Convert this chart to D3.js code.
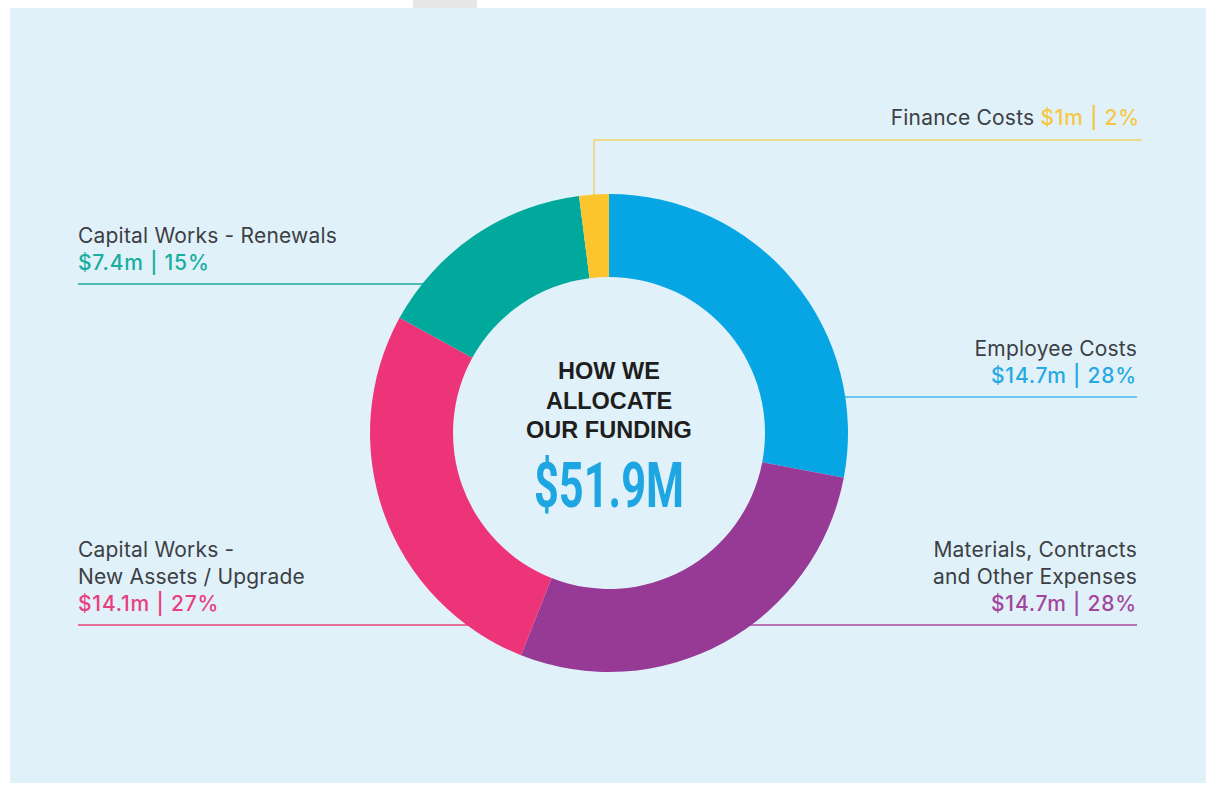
<!DOCTYPE html>
<html>
<head>
<meta charset="utf-8">
<script src="https://cdn.jsdelivr.net/npm/d3@7"></script>
<style>
  html, body { margin: 0; padding: 0; background: #ffffff; }
  svg { display: block; }
</style>
</head>
<body>
<div id="chart"></div>
<script>
(function () {
	// Data
	const categories = ["Employee Costs", "Materials, Contracts and Other Expenses", "Capital Works - New Assets / Upgrade", "Capital Works - Renewals", "Finance Costs"];
	const amounts = [14.7, 14.7, 14.1, 7.4, 1]; // $m
	const percents = [28, 28, 27, 15, 2];
	const totalLabel = "$51.9M";
	const titleLines = ["HOW WE", "ALLOCATE", "OUR FUNDING"];

	// Label text broken into lines (name lines, then value line)
	const nameLines = [
		["Employee Costs"],
		["Materials, Contracts", "and Other Expenses"],
		["Capital Works -", "New Assets / Upgrade"],
		["Capital Works - Renewals"],
		["Finance Costs"],
	];

	const SEG_COLORS = ["#05A6E3", "#973A96", "#EE3479", "#00A99C", "#FDC52D"];
	const VAL_COLORS = ["#25A9E0", "#A2469C", "#E8407F", "#17AE9E", "#F6C744"];
	const LINE_COLORS = ["#6CC6EE", "#B574B3", "#E8709B", "#4DBDB1", "#EDD98E"];

	const width = 1206, height = 787;
	const cx = 609, cy = 433;
	const R = 239, r = 156;
	const LH = 27;

	const svg = d3.select("#chart").append("svg")
		.attr("width", width)
		.attr("height", height);

	// panel
	svg.append("rect")
		.attr("x", 10).attr("y", 8)
		.attr("width", width - 10).attr("height", 775)
		.attr("fill", "#E1F1FA");
	svg.append("rect")
		.attr("x", 413).attr("y", 0)
		.attr("width", 64).attr("height", 8)
		.attr("fill", "#E6E6E6");

	const data = categories.map((c, i) => ({ name: c, amount: amounts[i], pct: percents[i], i }));

	// slices sized by the rounded percentages, as in the original graphic
	const pie = d3.pie().sort(null).value(d => d.pct);
	const arcs = pie(data);
	const arc = d3.arc().innerRadius(r).outerRadius(R);

	// label layout: side, y of the leader line
	const layout = [
		{ side: "right", lineY: 397 },
		{ side: "right", lineY: 625 },
		{ side: "left", lineY: 625 },
		{ side: "left", lineY: 284 },
		{ side: "top", lineY: 140 },
	];
	const LEFT_X = 78, RIGHT_X = 1137;

	const lines = svg.append("g");
	const donut = svg.append("g").attr("transform", `translate(${cx},${cy})`);
	const labels = svg.append("g");

	arcs.forEach((a, i) => {
		const L = layout[i];
		if (L.side === "top") {
			const mid = (a.startAngle + a.endAngle) / 2;
			const px = cx + R * Math.sin(mid);
			const py = cy - R * Math.cos(mid);
			lines.append("path")
				.attr("d", `M${px},${py + 4}V${L.lineY}H${RIGHT_X + 5}`)
				.attr("fill", "none")
				.attr("stroke", LINE_COLORS[i])
				.attr("stroke-width", 2);
		} else {
			const dy = L.lineY - cy;
			const dx = Math.sqrt(R * R - dy * dy);
			const x0 = L.side === "left" ? LEFT_X : cx + dx - 2;
			const x1 = L.side === "left" ? cx - dx + 2 : RIGHT_X;
			lines.append("line")
				.attr("x1", x0).attr("x2", x1)
				.attr("y1", L.lineY).attr("y2", L.lineY)
				.attr("stroke", LINE_COLORS[i])
				.attr("stroke-width", 2);
		}
	});

	donut.selectAll("path.seg")
		.data(arcs)
		.join("path")
		.attr("class", "seg")
		.attr("d", arc)
		.attr("fill", d => SEG_COLORS[d.data.i]);

	const fmtVal = d => `$${d.amount}m | ${d.pct}%`;
	const FONT = "Inter, 'Open Sans', sans-serif";

	data.forEach((d, i) => {
		const L = layout[i];
		if (L.side === "top") {
			const t = labels.append("text")
				.attr("x", RIGHT_X + 3)
				.attr("y", L.lineY - 15)
				.attr("text-anchor", "end")
				.style("font-family", FONT)
				.style("font-size", "21px")
				.style("letter-spacing", "0.2px");
			t.append("tspan").attr("fill", "#3B4045").text(nameLines[i].join(" ") + " ");
			t.append("tspan").attr("fill", VAL_COLORS[i]).style("font-weight", 500)
				.style("letter-spacing", "0.8px").text(fmtVal(d));
			return;
		}
		const all = nameLines[i].length + 1;
		const anchor = L.side === "left" ? "start" : "end";
		const x = L.side === "left" ? LEFT_X : RIGHT_X;
		const baseY = L.lineY - 14 - (all - 1) * LH;
		const t = labels.append("text")
			.attr("text-anchor", anchor)
			.style("font-family", FONT)
			.style("font-size", "21px")
			.style("letter-spacing", "0.2px");
		nameLines[i].forEach((ln, k) => {
			t.append("tspan").attr("x", x).attr("y", baseY + k * LH)
				.attr("fill", "#3B4045").text(ln);
		});
		t.append("tspan").attr("x", x).attr("y", baseY + (all - 1) * LH)
			.attr("fill", VAL_COLORS[i]).style("font-weight", 500)
			.style("letter-spacing", "0.8px")
			.text(fmtVal(d));
	});

	// centre title
	titleLines.forEach((ln, k) => {
		svg.append("text")
			.attr("x", cx)
			.attr("y", 379 + k * 29.5)
			.attr("text-anchor", "middle")
			.style("font-family", "'Liberation Sans', Arial, sans-serif")
			.style("font-weight", 700)
			.style("font-size", "23.5px")
			.attr("fill", "#1E1E1E")
			.text(ln);
	});
	svg.append("text")
		.attr("x", cx)
		.attr("y", 507)
		.attr("text-anchor", "middle")
		.attr("textLength", 150)
		.attr("lengthAdjust", "spacingAndGlyphs")
		.style("font-family", "Roboto, sans-serif")
		.style("font-weight", 700)
		.style("font-size", "63px")
		.attr("fill", "#1DA6E1")
		.text(totalLabel);
})();
</script>
</body>
</html>
